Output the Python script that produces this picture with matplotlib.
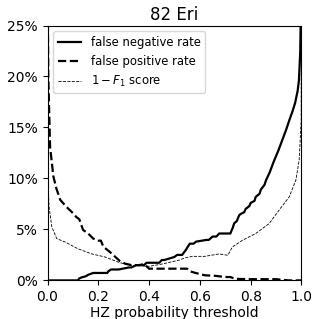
import matplotlib
matplotlib.use('Agg')
import matplotlib.pyplot as plt
import matplotlib.ticker as mticker
import numpy as np

# false negative rate (solid), values in percent
fnr_x = [0, 0.12, 0.125, 0.135, 0.15, 0.16, 0.18, 0.235, 0.24, 0.25, 0.28, 0.32,
         0.33, 0.35, 0.38, 0.39, 0.44, 0.45, 0.46, 0.50, 0.51, 0.53, 0.545, 0.56,
         0.575, 0.585, 0.625, 0.635, 0.65, 0.665, 0.676, 0.72, 0.73, 0.735, 0.745,
         0.755, 0.76, 0.775, 0.78, 0.795, 0.80, 0.815, 0.82, 0.835, 0.84, 0.855,
         0.86, 0.875, 0.89, 0.91, 0.925, 0.94, 0.952, 0.965, 0.975, 0.985, 0.99,
         0.995, 1.0]
fnr_y = [0, 0, 0.2, 0.3, 0.4, 0.55, 0.73, 0.73, 0.9, 1.07, 1.07, 1.27,
         1.27, 1.5, 1.5, 1.73, 1.73, 2.0, 2.0, 2.3, 2.5, 2.5, 3.0, 3.6,
         3.6, 3.8, 3.97, 3.97, 4.3, 4.3, 4.6, 4.6, 5.2, 5.6, 5.8,
         6.4, 6.5, 6.7, 7.0, 7.3, 7.6, 7.8, 8.2, 8.5, 8.9, 9.4,
         9.8, 10.6, 11.6, 12.8, 13.8, 14.8, 15.7, 16.6, 17.4, 18.6, 19.6,
         22.3, 30]

# false positive rate (dashed)
fpr_x = [0, 0.003, 0.01, 0.023, 0.035, 0.05, 0.075, 0.1, 0.114, 0.125, 0.14,
         0.16, 0.18, 0.2, 0.21, 0.22, 0.245, 0.267, 0.285, 0.305, 0.33, 0.36,
         0.38, 0.40, 0.45, 0.55, 0.56, 0.58, 0.62, 0.66, 0.70, 0.72, 0.74,
         0.80, 0.90, 0.95, 1.0]
fpr_y = [30, 20, 13.1, 10.2, 9.0, 7.9, 7.2, 6.6, 6.2, 6.0, 4.95,
         4.6, 4.1, 3.9, 3.9, 3.3, 2.8, 2.3, 1.9, 1.65, 1.5, 1.5,
         1.6, 1.15, 1.15, 1.15, 0.9, 0.75, 0.5, 0.45, 0.33, 0.33, 0.15,
         0.12, 0.12, 0.0, 0.0]

# 1 - F1 score (thin dashed)
f1_x = [0, 0.003, 0.006, 0.017, 0.036, 0.069, 0.12, 0.174, 0.226, 0.278,
        0.318, 0.40, 0.45, 0.52, 0.54, 0.57, 0.62, 0.676, 0.71, 0.728, 0.768,
        0.82, 0.873, 0.912, 0.952, 0.978, 0.991, 0.999, 1.0]
f1_y = [25, 9, 7.2, 5.25, 4.1, 3.77, 3.1, 2.6, 2.3, 1.8,
        1.5, 1.38, 1.6, 2.0, 2.2, 2.36, 2.36, 2.6, 2.46, 3.28, 3.94,
        4.6, 5.58, 6.9, 8.2, 9.84, 11.8, 15.7, 100]

fig = plt.figure(figsize=(3.19, 3.19), dpi=100)
ax = fig.add_axes([0.149, 0.121, 0.796, 0.799])

ax.plot(fnr_x, fnr_y, color='k', lw=1.6, label='false negative rate')
ax.plot(fpr_x, fpr_y, color='k', lw=1.6, ls='--', label='false positive rate')
ax.plot(f1_x, f1_y, color='k', lw=0.6, ls='--', label=r'$1-F_1$ score')

ax.set_xlim(0, 1)
ax.set_ylim(0, 25)
ax.set_yticks([0, 5, 10, 15, 20, 25])
ax.yaxis.set_major_formatter(mticker.PercentFormatter(100, decimals=0))
ax.tick_params(labelsize=10)
ax.set_xlabel('HZ probability threshold', fontsize=10, labelpad=1)
ax.set_title('82 Eri', fontsize=12, pad=4)
ax.legend(loc='upper left', fontsize=8.4)

fig.savefig('out.png', dpi=100)
